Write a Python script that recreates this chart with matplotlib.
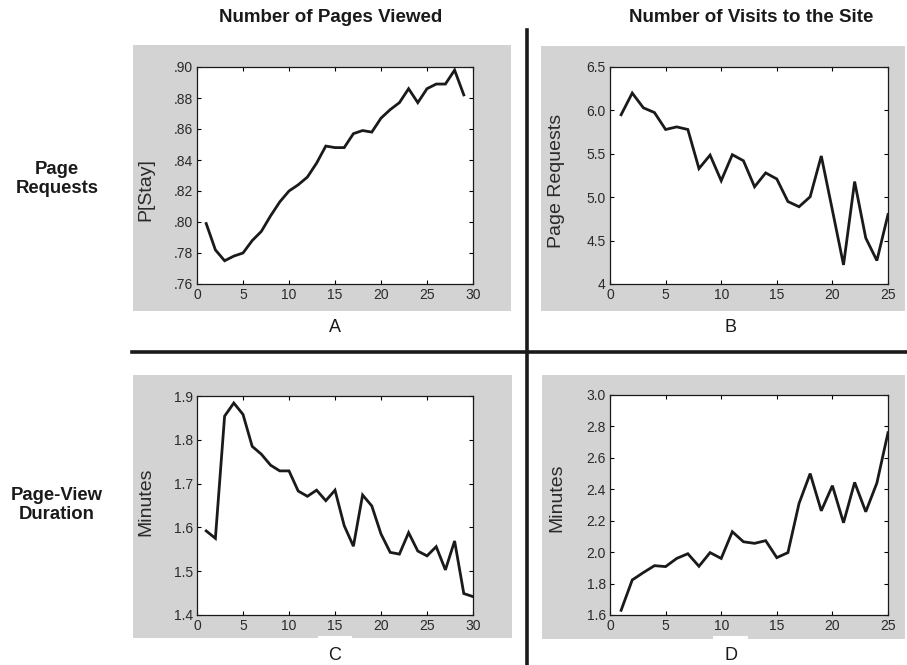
import matplotlib
matplotlib.use("Agg")
import matplotlib.pyplot as plt
from matplotlib.patches import Rectangle
from matplotlib.lines import Line2D
from matplotlib.ticker import FuncFormatter

plt.rcParams['font.family'] = ['Liberation Sans', 'DejaVu Sans']

# ---------------- data ----------------
col_titles = ["Number of Pages Viewed", "Number of Visits to the Site"]
row_titles = ["Page\nRequests", "Page-View\nDuration"]
panel_letters = ["A", "B", "C", "D"]
y_labels = ["P[Stay]", "Page Requests", "Minutes", "Minutes"]

a_x = list(range(1, 30))
a_y = [0.799, 0.782, 0.775, 0.778, 0.780, 0.788, 0.794, 0.804, 0.813, 0.820,
       0.824, 0.829, 0.838, 0.849, 0.848, 0.848, 0.857, 0.859, 0.858, 0.867,
       0.8725, 0.877, 0.886, 0.877, 0.886, 0.889, 0.889, 0.898, 0.882]

b_x = list(range(1, 26))
b_y = [5.95, 6.20, 6.03, 5.975, 5.78, 5.81, 5.78, 5.33, 5.485, 5.19,
       5.49, 5.42, 5.12, 5.28, 5.21, 4.95, 4.89, 5.005, 5.475, 4.85,
       4.22, 5.18, 4.53, 4.27, 4.80]

c_x = list(range(1, 31))
c_y = [1.592, 1.575, 1.854, 1.884, 1.858, 1.785, 1.767, 1.742, 1.729, 1.729,
       1.683, 1.671, 1.685, 1.661, 1.685, 1.604, 1.557, 1.674, 1.649, 1.585,
       1.543, 1.539, 1.588, 1.546, 1.535, 1.556, 1.503, 1.569, 1.449, 1.442]

d_x = list(range(1, 26))
d_y = [1.63, 1.823, 1.87, 1.914, 1.908, 1.96, 1.99, 1.91, 1.997, 1.96,
       2.13, 2.066, 2.056, 2.073, 1.965, 1.997, 2.31, 2.50, 2.263, 2.423,
       2.187, 2.444, 2.257, 2.44, 2.76]

a_yticks = [0.76, 0.78, 0.80, 0.82, 0.84, 0.86, 0.88, 0.90]
a_yticklabels = [".76", ".78", ".80", ".82", ".84", ".86", ".88", ".90"]
b_yticks = [4.0, 4.5, 5.0, 5.5, 6.0, 6.5]
b_yticklabels = ["4", "4.5", "5.0", "5.5", "6.0", "6.5"]
c_yticks = [1.4, 1.5, 1.6, 1.7, 1.8, 1.9]
c_yticklabels = ["1.4", "1.5", "1.6", "1.7", "1.8", "1.9"]
d_yticks = [1.6, 1.8, 2.0, 2.2, 2.4, 2.6, 2.8, 3.0]
d_yticklabels = ["1.6", "1.8", "2.0", "2.2", "2.4", "2.6", "2.8", "3.0"]
x30_ticks = [0, 5, 10, 15, 20, 25, 30]
x25_ticks = [0, 5, 10, 15, 20, 25]

# ---------------- layout ----------------
W, H = 907, 665
fig = plt.figure(figsize=(W / 100, H / 100), dpi=100)
fig.patch.set_facecolor("white")

def fx(px):
    return px / W

def fy(py):
    return 1 - py / H

def rect_px(x0, y0, x1, y1, **kw):
    r = Rectangle((fx(x0), fy(y1)), fx(x1) - fx(x0), fy(y0) - fy(y1),
                  transform=fig.transFigure, **kw)
    fig.add_artist(r)
    return r

gray = "#d3d3d4"
# gray panel backgrounds
rect_px(133, 45, 511, 311, facecolor=gray, edgecolor="none", zorder=0)
rect_px(541, 46, 905, 311, facecolor=gray, edgecolor="none", zorder=0)
rect_px(133, 375, 512, 638, facecolor=gray, edgecolor="none", zorder=0)
rect_px(542, 375, 905, 639, facecolor=gray, edgecolor="none", zorder=0)
# small white patches under the lower letters
rect_px(318, 636, 352, 641, facecolor="white", edgecolor="none", zorder=0.5)
rect_px(713, 636, 748, 641, facecolor="white", edgecolor="none", zorder=0.5)

# divider lines
fig.add_artist(Line2D([fx(132), fx(907)], [fy(352), fy(352)], color="#1a1a1a",
                      lw=2.6, transform=fig.transFigure, zorder=1))
fig.add_artist(Line2D([fx(527), fx(527)], [fy(30), fy(665)], color="#1a1a1a",
                      lw=2.6, transform=fig.transFigure, zorder=1))

# titles
fig.text(fx(331), fy(17), col_titles[0], ha="center", va="center",
         fontsize=13.5, fontweight="bold", color="#1a1a1a")
fig.text(fx(751), fy(17), col_titles[1], ha="center", va="center",
         fontsize=13.5, fontweight="bold", color="#1a1a1a")
fig.text(fx(57), fy(179), row_titles[0], ha="center", va="center",
         fontsize=13.3, fontweight="bold", color="#1a1a1a", linespacing=1.15)
fig.text(fx(57), fy(505), row_titles[1], ha="center", va="center",
         fontsize=13.3, fontweight="bold", color="#1a1a1a", linespacing=1.15)

# panel letters
fig.text(fx(335), fy(327), panel_letters[0], ha="center", va="center", fontsize=13, color="#1a1a1a")
fig.text(fx(731), fy(327), panel_letters[1], ha="center", va="center", fontsize=13, color="#1a1a1a")
fig.text(fx(335), fy(655), panel_letters[2], ha="center", va="center", fontsize=13, color="#1a1a1a")
fig.text(fx(731), fy(655), panel_letters[3], ha="center", va="center", fontsize=13, color="#1a1a1a")

def make_ax(x0, y0, x1, y1):
    ax = fig.add_axes([fx(x0), fy(y1), fx(x1) - fx(x0), fy(y0) - fy(y1)])
    ax.set_facecolor("white")
    ax.set_zorder(2)
    return ax

panels = [
    dict(box=(197, 67, 473, 284), x=a_x, y=a_y, xlim=(0, 30), xt=x30_ticks,
         ylim=(0.76, 0.90), yt=a_yticks, ytl=a_yticklabels, yl=y_labels[0],
         lab=(154, 190)),
    dict(box=(610, 67, 888, 284), x=b_x, y=b_y, xlim=(0, 25), xt=x25_ticks,
         ylim=(4.0, 6.5), yt=b_yticks, ytl=b_yticklabels, yl=y_labels[1],
         lab=(565, 181)),
    dict(box=(197, 396, 473, 615), x=c_x, y=c_y, xlim=(0, 30), xt=x30_ticks,
         ylim=(1.4, 1.9), yt=c_yticks, ytl=c_yticklabels, yl=y_labels[2],
         lab=(154, 502)),
    dict(box=(610, 395, 888, 615), x=d_x, y=d_y, xlim=(0, 25), xt=x25_ticks,
         ylim=(1.6, 3.0), yt=d_yticks, ytl=d_yticklabels, yl=y_labels[3],
         lab=(565, 498)),
]

for p in panels:
    x0, y0, x1, y1 = p["box"]
    ax = make_ax(x0, y0, x1, y1)
    ax.plot(p["x"], p["y"], color="#1a1a1a", lw=2.0, solid_joinstyle="miter")
    ax.set_xlim(*p["xlim"])
    ax.set_ylim(*p["ylim"])
    ax.set_xticks(p["xt"])
    ax.set_xticklabels([str(t) for t in p["xt"]])
    ax.set_yticks(p["yt"])
    ax.set_yticklabels(p["ytl"])
    ax.tick_params(direction="in", top=True, right=True, length=3, width=0.8,
                   labelsize=10, labelcolor="#2a2a2a", pad=3)
    for s in ax.spines.values():
        s.set_linewidth(0.9)
        s.set_color("#1a1a1a")
    ax.set_ylabel(p["yl"], fontsize=14, color="#2a2a2a")
    lx, ly = p["lab"]
    ax.yaxis.set_label_coords((lx - x0) / (x1 - x0), 1 - (ly - y0) / (y1 - y0))

fig.savefig("out.png", dpi=100, facecolor="white")
